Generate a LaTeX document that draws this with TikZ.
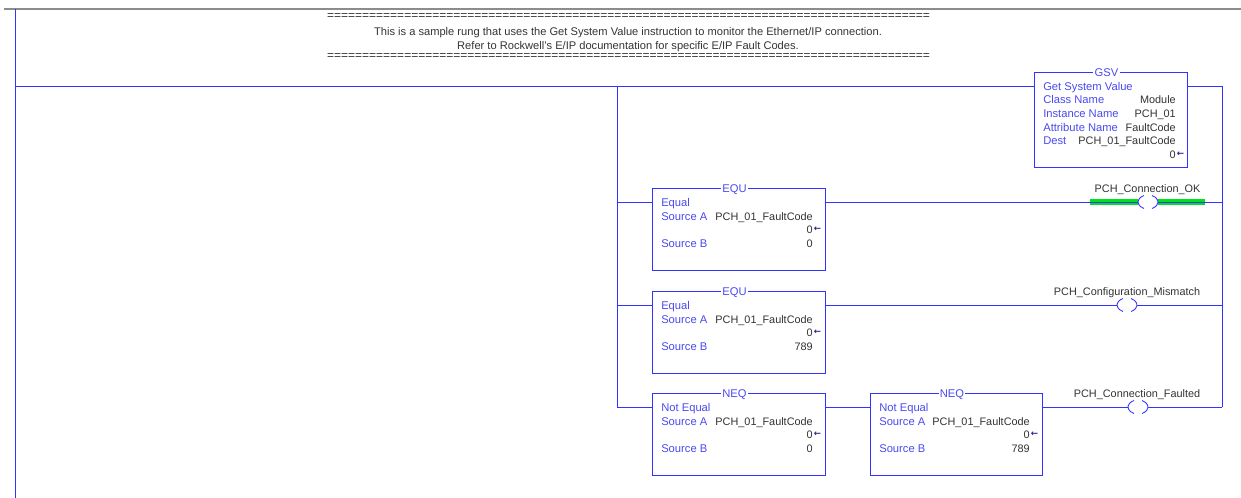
\documentclass[tikz,border=0pt]{standalone}
\usepackage{fontspec}
\setmainfont{Liberation Sans}
\newfontfamily\arrowfont{DejaVu Sans}
\definecolor{rungblue}{HTML}{3333FF}
\definecolor{labelblue}{HTML}{4A4AF0}
\definecolor{valuegray}{HTML}{333333}
\definecolor{arrowblue}{HTML}{202090}
\definecolor{coilgreen}{HTML}{00E020}
\tikzset{
  rung/.style      = {draw=rungblue, line width=0.7pt},
  frame/.style     = {draw=rungblue, fill=white, line width=0.7pt, anchor=north west, inner sep=0pt},
  title/.style     = {fill=white, text=labelblue, font=\fontsize{8.4}{10}\selectfont, inner xsep=1pt, inner ysep=0pt, text height=6.5pt, text depth=1.8pt},
  label/.style     = {text=labelblue, font=\fontsize{8.4}{10}\selectfont, anchor=west, inner sep=0pt, text height=6.5pt, text depth=1.8pt},
  value/.style     = {text=valuegray, font=\fontsize{8.15}{10}\selectfont, anchor=east, inner sep=0pt, text height=6.5pt, text depth=1.8pt},
  note/.style      = {text=valuegray, font=\fontsize{8.34}{10}\selectfont, inner sep=0pt, text height=6.5pt, text depth=1.8pt},
  tag/.style       = {text=valuegray, font=\fontsize{8.15}{10}\selectfont, inner sep=0pt, text height=6.5pt, text depth=1.8pt},
  rule/.style      = {text=valuegray, font=\fontsize{9}{10}\selectfont, inner sep=0pt},
  flow/.style      = {anchor=east, inner sep=0pt, text=arrowblue, font=\arrowfont\bfseries\fontsize{6.5}{6}\selectfont},
  coilgap/.style   = {fill=white, minimum width=15pt, minimum height=10pt, inner sep=0pt},
  coilarc/.style   = {draw=rungblue, line width=0.65pt},
  live/.style      = {draw=coilgreen, line width=4pt}
}
% #1 name, #2 x, #3 y, #4 width, #5 height, #6 title
\newcommand{\ladderbox}[6]{
  \node[frame, minimum width=#4*0.75pt, minimum height=#5*0.75pt] (#1) at (#2,#3) {};
  \node[title] (#1title) at ({#2+#4/2-4},{#3+1}) {#6};
  \coordinate (#1in) at (#2,{#3+14});
  \coordinate (#1out) at ({#2+#4},{#3+14});
}
% #1 name, #2 x, #3 y, #4 width, #5 title, #6 description, #7 source b
\newcommand{\comparebox}[7]{
  \ladderbox{#1}{#2}{#3}{#4}{82}{#5}
  \node[label] (#1desc) at ({#2+9},{#3+15}) {#6};
  \node[label] (#1a) at ({#2+9},{#3+29}) {Source A};
  \node[value] (#1aval) at ({#2+#4-12},{#3+29}) {PCH\_01\_FaultCode};
  \node[value] (#1zero) at ({#2+#4-12},{#3+42}) {0};
  \node[flow] (#1arrow) at ({#2+#4-3.5},{#3+41}) {←};
  \node[label] (#1b) at ({#2+9},{#3+56}) {Source B};
  \node[value] (#1bval) at ({#2+#4-12},{#3+56}) {#7};
}
% #1 name, #2 x, #3 y
\newcommand{\coilnode}[3]{
  \node[coilgap] (#1) at (#2,#3) {};
  \draw[coilarc] (#1.center) ++(-4,6.5) arc[start angle=120, end angle=240, x radius=12, y radius=7.5];
  \draw[coilarc] (#1.center) ++(4,-6.5) arc[start angle=-60, end angle=60, x radius=12, y radius=7.5];
}
\begin{document}
\begin{tikzpicture}[x=0.75pt, y=-0.75pt]
	\useasboundingbox (0,0) rectangle (1241,498);
	\coordinate (topleft) at (4,9);
	\coordinate (topright) at (1241,9);
	\coordinate (railtop) at (15,9);
	\coordinate (railend) at (15,498);
	\coordinate (rungstart) at (15,86);
	\coordinate (branchtop) at (617,86);
	\coordinate (branchone) at (617,202);
	\coordinate (branchtwo) at (617,305);
	\coordinate (branchend) at (617,407);
	\coordinate (outtop) at (1222,86);
	\coordinate (outone) at (1222,202);
	\coordinate (outtwo) at (1222,305);
	\coordinate (outend) at (1222,407);
	\draw[draw=black!45, line width=1.6pt] (topleft) -- (topright);
	\draw[rung] (railtop) -- (railend);
	\node[rule] (ruleone) at (628.5,17) {======================================================================================};
	\node[note] (noteone) at (628,32) {This is a sample rung that uses the Get System Value instruction to monitor the Ethernet/IP connection.};
	\node[note] (notetwo) at (628,46) {Refer to Rockwell's E/IP documentation for specific E/IP Fault Codes.};
	\node[rule] (ruletwo) at (628.5,57) {======================================================================================};
	% boxes
	\ladderbox{gsv}{1034}{72}{153}{95}{GSV}
	\node[label] (gsvdesc) at (1043,87) {Get System Value};
	\node[label] (gsvclass) at (1043,100.5) {Class Name};
	\node[value] (gsvclassval) at (1176,100.5) {Module};
	\node[label] (gsvinst) at (1043,114) {Instance Name};
	\node[value] (gsvinstval) at (1176,114) {PCH\_01};
	\node[label] (gsvattr) at (1043,128) {Attribute Name};
	\node[value] (gsvattrval) at (1176,128) {FaultCode};
	\node[label] (gsvdest) at (1043,141.5) {Dest};
	\node[value] (gsvdestval) at (1176,141.5) {PCH\_01\_FaultCode};
	\node[value] (gsvzero) at (1176,155) {0};
	\node[flow] (gsvarrow) at (1184.5,154) {←};
	\comparebox{equone}{652}{188}{173}{EQU}{Equal}{0}
	\comparebox{equtwo}{652}{291}{173}{EQU}{Equal}{789}
	\comparebox{neqone}{652}{393}{173}{NEQ}{Not Equal}{0}
	\comparebox{neqtwo}{870}{393}{172}{NEQ}{Not Equal}{789}
	% rungs
	\draw[rung] (rungstart) -- (gsvin);
	\draw[rung] (gsvout) -- (outtop);
	\draw[rung] (branchtop) -- (branchend);
	\draw[rung] (outtop) -- (outend);
	\draw[rung] (branchone) -- (equonein);
	\draw[rung] (branchtwo) -- (equtwoin);
	\draw[rung] (branchend) -- (neqonein);
	\draw[rung] (neqoneout) -- (neqtwoin);
	% contacts
	\coordinate (liveone) at (1090,202);
	\coordinate (livetwo) at (1205,202);
	\draw[live] (liveone) -- (livetwo);
	\draw[rung] (equoneout) -- (outone);
	\draw[rung] (equtwoout) -- (outtwo);
	\draw[rung] (neqtwoout) -- (outend);
	\coilnode{coilok}{1148}{202}
	\coilnode{coilmis}{1127}{305}
	\coilnode{coilflt}{1138}{407}
	\node[tag] (tagok) at (1147.5,189) {PCH\_Connection\_OK};
	\node[tag] (tagmis) at (1127,292) {PCH\_Configuration\_Mismatch};
	\node[tag] (tagflt) at (1137,394) {PCH\_Connection\_Faulted};
\end{tikzpicture}
\end{document}
